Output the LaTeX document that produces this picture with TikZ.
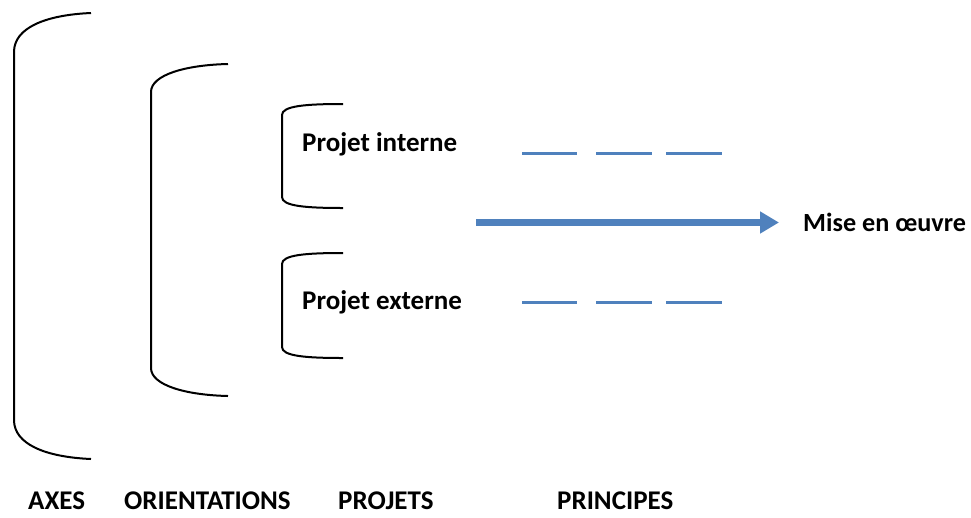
\documentclass[tikz,border=0pt]{standalone}
\usepackage{fontspec}
\setmainfont{Carlito}
\usetikzlibrary{arrows.meta}
\definecolor{officeblue}{RGB}{79,129,189}
\tikzset{
  brace/.style={draw=black, line width=2pt},
  dashseg/.style={draw=officeblue, line width=3pt},
  bigarrow/.style={draw=officeblue, line width=7pt, -{Triangle[length=19pt,width=21pt]}},
  lbl/.style={inner sep=0pt, anchor=base west, font=\fontsize{27}{30}\selectfont\bfseries}
}
\begin{document}
\begin{tikzpicture}[x=1pt,y=-1pt]
\useasboundingbox (0,0) rectangle (971,517);
% brackets
\draw[brace] (91,13) .. controls (45,15) and (14,28) .. (14,52) -- (14,420) .. controls (14,444) and (45,457) .. (91,459);
\draw[brace] (228,64) .. controls (185,65) and (151,75) .. (151,92) -- (151,368) .. controls (151,385) and (185,395) .. (228,396);
\draw[brace] (343,104) .. controls (305,104) and (282,106) .. (282,115) -- (282,197) .. controls (282,206) and (305,208) .. (343,208);
\draw[brace] (343,253) .. controls (305,253) and (282,255) .. (282,264) -- (282,347) .. controls (282,356) and (305,358) .. (343,358);
% labels
\node[lbl] (pint) at (302,151) {Projet interne};
\node[lbl] (pext) at (302,309) {Projet externe};
\node[lbl, font=\fontsize{26.2}{29}\selectfont\bfseries] (mise) at (803,231) {Mise en œuvre};
\node[lbl] (axes) at (28,509) {AXES};
\node[lbl] (orient) at (124,509) {ORIENTATIONS};
\node[lbl] (proj) at (338,509) {PROJETS};
\node[lbl] (princ) at (557,509) {PRINCIPES};
% dashes
\coordinate (a1) at (522,153); \coordinate (a2) at (577,153);
\coordinate (a3) at (596,153); \coordinate (a4) at (652,153);
\coordinate (a5) at (666,153); \coordinate (a6) at (722,153);
\coordinate (b1) at (522,302); \coordinate (b2) at (577,302);
\coordinate (b3) at (596,302); \coordinate (b4) at (652,302);
\coordinate (b5) at (666,302); \coordinate (b6) at (722,302);
\draw[dashseg] (a1) -- (a2); \draw[dashseg] (a3) -- (a4); \draw[dashseg] (a5) -- (a6);
\draw[dashseg] (b1) -- (b2); \draw[dashseg] (b3) -- (b4); \draw[dashseg] (b5) -- (b6);
% arrow
\coordinate (arS) at (476,222.5);
\coordinate (arE) at (779,222.5);
\draw[bigarrow] (arS) -- (arE);
\end{tikzpicture}
\end{document}
